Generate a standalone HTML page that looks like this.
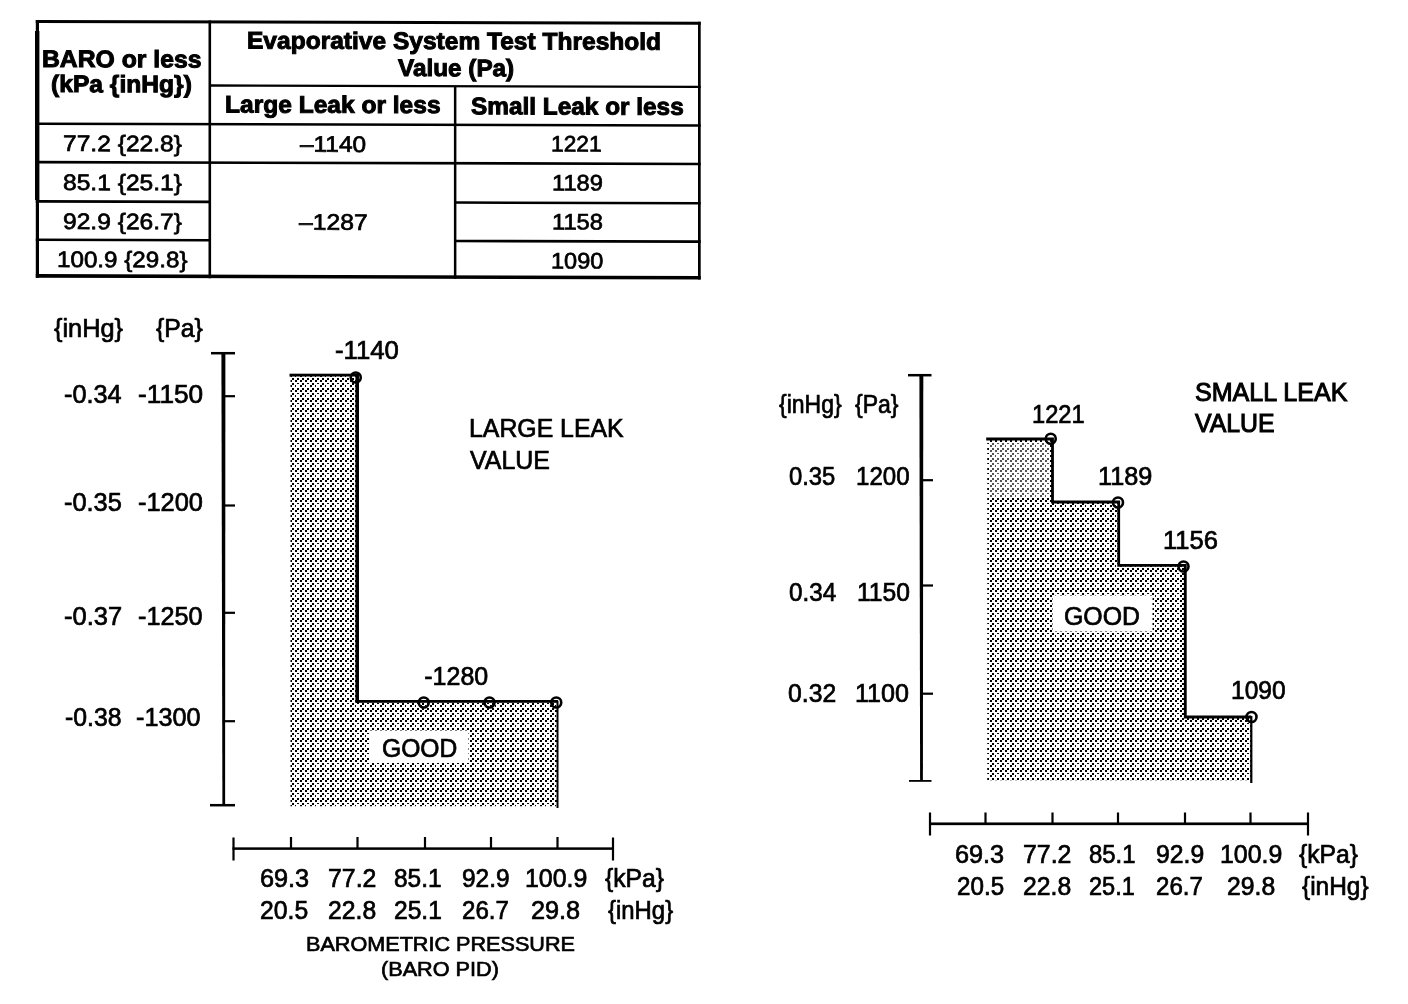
<!DOCTYPE html>
<html lang="en">
<head>
<meta charset="utf-8">
<title>Evaporative System Test Threshold Value</title>
<style>
html,body{margin:0;padding:0;background:#fff;}
body{width:1408px;height:1004px;position:relative;overflow:hidden;font-family:"Liberation Sans",sans-serif;color:#000;}
svg{position:absolute;left:0;top:0;}
.t{position:absolute;white-space:pre;line-height:1;transform-origin:0 0;margin:0;padding:0;}
.b{font-weight:bold;}
#tbl{position:absolute;left:0;top:0;width:1408px;height:300px;}
#labels{position:absolute;left:0;top:0;width:1408px;height:1004px;will-change:transform;}
</style>
</head>
<body>
<svg width="1408" height="1004" viewBox="0 0 1408 1004">
<defs><pattern id="st" width="10" height="10" patternUnits="userSpaceOnUse" shape-rendering="crispEdges"><rect x="0" y="0" width="2" height="2" fill="#000"/><rect x="5" y="0" width="2" height="2" fill="#000"/><rect x="2" y="3" width="2" height="2" fill="#000"/><rect x="7" y="3" width="2" height="1" fill="#000"/><rect x="0" y="5" width="2" height="2" fill="#000"/><rect x="5" y="5" width="1" height="2" fill="#000"/><rect x="2" y="8" width="2" height="2" fill="#000"/><rect x="7" y="8" width="2" height="2" fill="#000"/></pattern></defs>
<g transform="translate(36,0) skewY(0.16) translate(-36,0)">
<rect x="35.8" y="20" width="664.9" height="2.9" fill="#000"/>
<rect x="35.8" y="274.1" width="664.9" height="3.6" fill="#000"/>
<rect x="35.8" y="20" width="3.2" height="257.7" fill="#000"/>
<rect x="35" y="31" width="4.4" height="169" fill="#000"/>
<rect x="698" y="20" width="2.7" height="257.7" fill="#000"/>
<rect x="208.5" y="20" width="2.6" height="257.7" fill="#000"/>
<rect x="453.9" y="85" width="2.5" height="192.7" fill="#000"/>
<rect x="210" y="83.85" width="490.7" height="2.3" fill="#000"/>
<rect x="35.8" y="122.4" width="664.9" height="2.6" fill="#000"/>
<rect x="35.8" y="160.8" width="664.9" height="2.6" fill="#000"/>
<rect x="35.8" y="200.1" width="174.2" height="2.6" fill="#000"/>
<rect x="455" y="200.1" width="245.7" height="2.6" fill="#000"/>
<rect x="35.8" y="238.5" width="174.2" height="2.6" fill="#000"/>
<rect x="455" y="238.5" width="245.7" height="2.6" fill="#000"/>
</g>
<path d="M290.5 375H357.3V701.5H558V806.3H290.5Z" fill="url(#st)"/>
<path d="M221.4 353H225.4L225.1 805H222.4Z" fill="#000"/>
<rect x="211" y="351.95" width="24" height="2.5" fill="#000"/>
<rect x="210" y="803.95" width="25" height="2.5" fill="#000"/>
<rect x="225" y="395.1" width="10" height="2.2" fill="#000"/>
<rect x="225" y="504.4" width="10" height="2.2" fill="#000"/>
<rect x="225" y="611.7" width="10" height="2.2" fill="#000"/>
<rect x="225" y="720.1" width="10" height="2.2" fill="#000"/>
<rect x="289.5" y="373.7" width="68.5" height="2.8" fill="#000"/>
<rect x="355.4" y="373.7" width="3.6" height="329.3" fill="#000"/>
<rect x="356" y="700" width="202" height="2.8" fill="#000"/>
<rect x="556.5" y="701" width="2" height="107" fill="#000"/>
<circle cx="355.75" cy="377.5" r="5" fill="none" stroke="#000" stroke-width="2.6"/>
<circle cx="423.75" cy="702.5" r="5" fill="none" stroke="#000" stroke-width="2.6"/>
<circle cx="489.5" cy="702.5" r="5" fill="none" stroke="#000" stroke-width="2.6"/>
<circle cx="556.25" cy="702.5" r="5" fill="none" stroke="#000" stroke-width="2.6"/>
<rect x="369" y="730.5" width="99.5" height="32.5" fill="#fff"/>
<rect x="232.5" y="847.35" width="381.5" height="2.5" fill="#000"/>
<rect x="232.4" y="837.5" width="2.2" height="23" fill="#000"/>
<rect x="611.9" y="837.5" width="2.2" height="23" fill="#000"/>
<rect x="289.9" y="837" width="2.2" height="11" fill="#000"/>
<rect x="356.4" y="837" width="2.2" height="11" fill="#000"/>
<rect x="423.9" y="837" width="2.2" height="11" fill="#000"/>
<rect x="489.9" y="837" width="2.2" height="11" fill="#000"/>
<rect x="556.4" y="837" width="2.2" height="11" fill="#000"/>
<path d="M987.2 439H1052.5V502H1118.7V565.3H1185.3V717H1251.2V780.3H987.2Z" fill="url(#st)"/>
<rect x="989" y="442" width="61" height="56" fill="#fff" opacity="0.33"/>
<path d="M919.4 375H923.3L922.9 781H920.1Z" fill="#000"/>
<rect x="908" y="373.95" width="23.5" height="2.5" fill="#000"/>
<rect x="909" y="780" width="22.5" height="1.8" fill="#000"/>
<rect x="923" y="479.1" width="10" height="2.2" fill="#000"/>
<rect x="923" y="584.4" width="10" height="2.2" fill="#000"/>
<rect x="923" y="692.6" width="10" height="2.2" fill="#000"/>
<path d="M986.2 439H1052.5V502H1118.7V565.3H1185.3V717H1251.2" fill="none" stroke="#000" stroke-width="2.8"/>
<rect x="1250.2" y="716" width="2.2" height="67" fill="#000"/>
<circle cx="1050.75" cy="438.75" r="5" fill="none" stroke="#000" stroke-width="2.6"/>
<circle cx="1118" cy="502.5" r="5" fill="none" stroke="#000" stroke-width="2.6"/>
<circle cx="1183.5" cy="566.5" r="5" fill="none" stroke="#000" stroke-width="2.6"/>
<circle cx="1251.5" cy="717" r="5" fill="none" stroke="#000" stroke-width="2.6"/>
<rect x="1052.5" y="595.5" width="100" height="36" fill="#fff"/>
<rect x="929" y="822.45" width="380" height="2.7" fill="#000"/>
<rect x="928.9" y="812.5" width="2.2" height="23" fill="#000"/>
<rect x="1306.9" y="812.5" width="2.2" height="23" fill="#000"/>
<rect x="984.4" y="812.5" width="2.2" height="10.5" fill="#000"/>
<rect x="1051.4" y="812.5" width="2.2" height="10.5" fill="#000"/>
<rect x="1116.9" y="812.5" width="2.2" height="10.5" fill="#000"/>
<rect x="1183.9" y="812.5" width="2.2" height="10.5" fill="#000"/>
<rect x="1249.4" y="812.5" width="2.2" height="10.5" fill="#000"/>
</svg>
<div id="labels">
<div id="tbl" style="transform-origin:36px 0;transform:skewY(0.16deg)">
<span class="t b" style="left:41.97px;top:47px;font-size:24px;-webkit-text-stroke:1px #000;transform:scaleX(1.0310)">BARO or less</span>
<span class="t b" style="left:51.23px;top:72px;font-size:24px;-webkit-text-stroke:1px #000;transform:scaleX(1.0257)">(kPa {inHg})</span>
<span class="t b" style="left:246.98px;top:28px;font-size:24px;-webkit-text-stroke:1px #000;transform:scaleX(1.0223)">Evaporative System Test Threshold</span>
<span class="t b" style="left:397.51px;top:55px;font-size:24px;-webkit-text-stroke:1px #000;transform:scaleX(1.0131)">Value (Pa)</span>
<span class="t b" style="left:224.98px;top:92px;font-size:24px;-webkit-text-stroke:1px #000;transform:scaleX(1.0227)">Large Leak or less</span>
<span class="t b" style="left:470.75px;top:93px;font-size:24px;-webkit-text-stroke:1px #000;transform:scaleX(1.0156)">Small Leak or less</span>
<span class="t" style="left:62.68px;top:133px;font-size:22.5px;-webkit-text-stroke:0.7px #000;transform:scaleX(1.0926)">77.2 {22.8}</span>
<span class="t" style="left:62.68px;top:172px;font-size:22.5px;-webkit-text-stroke:0.7px #000;transform:scaleX(1.0926)">85.1 {25.1}</span>
<span class="t" style="left:62.68px;top:211px;font-size:22.5px;-webkit-text-stroke:0.7px #000;transform:scaleX(1.0926)">92.9 {26.7}</span>
<span class="t" style="left:56.66px;top:249px;font-size:22.5px;-webkit-text-stroke:0.7px #000;transform:scaleX(1.0750)">100.9 {29.8}</span>
<span class="t" style="left:299.57px;top:133px;font-size:22.5px;-webkit-text-stroke:0.7px #000;transform:scaleX(1.0860)">–1140</span>
<span class="t" style="left:298.77px;top:211px;font-size:22.5px;-webkit-text-stroke:0.7px #000;transform:scaleX(1.0968)">–1287</span>
<span class="t" style="left:550.74px;top:132px;font-size:22.5px;-webkit-text-stroke:0.7px #000;transform:scaleX(1.0104)">1221</span>
<span class="t" style="left:552.18px;top:171px;font-size:22.5px;-webkit-text-stroke:0.7px #000;transform:scaleX(1.0538)">1189</span>
<span class="t" style="left:552.18px;top:210px;font-size:22.5px;-webkit-text-stroke:0.7px #000;transform:scaleX(1.0538)">1158</span>
<span class="t" style="left:550.69px;top:249px;font-size:22.5px;-webkit-text-stroke:0.7px #000;transform:scaleX(1.0466)">1090</span>
</div>
<span class="t" style="left:54.20px;top:316px;font-size:25px;-webkit-text-stroke:0.7px #000;transform:scaleX(1.0118)">{inHg}</span>
<span class="t" style="left:156.30px;top:316px;font-size:25px;-webkit-text-stroke:0.7px #000;transform:scaleX(0.9905)">{Pa}</span>
<span class="t" style="left:64.14px;top:382px;font-size:25px;-webkit-text-stroke:0.7px #000;transform:scaleX(1.0099)">-0.34</span>
<span class="t" style="left:138.11px;top:382px;font-size:25px;-webkit-text-stroke:0.7px #000;transform:scaleX(1.0502)">-1150</span>
<span class="t" style="left:64.14px;top:490px;font-size:25px;-webkit-text-stroke:0.7px #000;transform:scaleX(1.0144)">-0.35</span>
<span class="t" style="left:138.24px;top:490px;font-size:25px;-webkit-text-stroke:0.7px #000;transform:scaleX(1.0160)">-1200</span>
<span class="t" style="left:64.14px;top:604px;font-size:25px;-webkit-text-stroke:0.7px #000;transform:scaleX(1.0190)">-0.37</span>
<span class="t" style="left:138.24px;top:604px;font-size:25px;-webkit-text-stroke:0.7px #000;transform:scaleX(1.0080)">-1250</span>
<span class="t" style="left:65.46px;top:705px;font-size:25px;-webkit-text-stroke:0.7px #000;transform:scaleX(0.9910)">-0.38</span>
<span class="t" style="left:136.24px;top:705px;font-size:25px;-webkit-text-stroke:0.7px #000;transform:scaleX(1.0080)">-1300</span>
<span class="t" style="left:335.23px;top:338px;font-size:25px;-webkit-text-stroke:0.7px #000;transform:scaleX(1.0288)">-1140</span>
<span class="t" style="left:468.76px;top:416px;font-size:25px;-webkit-text-stroke:0.7px #000;transform:scaleX(0.9935)">LARGE LEAK</span>
<span class="t" style="left:469.75px;top:448px;font-size:25px;-webkit-text-stroke:0.7px #000;transform:scaleX(0.9969)">VALUE</span>
<span class="t" style="left:424.25px;top:664px;font-size:25px;-webkit-text-stroke:0.7px #000;transform:scaleX(1.0000)">-1280</span>
<span class="t" style="left:381.51px;top:736px;font-size:25px;-webkit-text-stroke:0.7px #000;transform:scaleX(0.9866)">GOOD</span>
<span class="t" style="left:259.99px;top:866px;font-size:25px;-webkit-text-stroke:0.7px #000;transform:scaleX(1.0106)">69.3</span>
<span class="t" style="left:327.51px;top:866px;font-size:25px;-webkit-text-stroke:0.7px #000;transform:scaleX(0.9947)">77.2</span>
<span class="t" style="left:394.27px;top:866px;font-size:25px;-webkit-text-stroke:0.7px #000;transform:scaleX(0.9787)">85.1</span>
<span class="t" style="left:461.77px;top:866px;font-size:25px;-webkit-text-stroke:0.7px #000;transform:scaleX(0.9787)">92.9</span>
<span class="t" style="left:524.51px;top:866px;font-size:25px;-webkit-text-stroke:0.7px #000;transform:scaleX(0.9959)">100.9</span>
<span class="t" style="left:605.00px;top:866px;font-size:25px;-webkit-text-stroke:0.7px #000;transform:scaleX(0.9874)">{kPa}</span>
<span class="t" style="left:260.01px;top:898px;font-size:25px;-webkit-text-stroke:0.7px #000;transform:scaleX(0.9894)">20.5</span>
<span class="t" style="left:327.51px;top:898px;font-size:25px;-webkit-text-stroke:0.7px #000;transform:scaleX(0.9894)">22.8</span>
<span class="t" style="left:394.02px;top:898px;font-size:25px;-webkit-text-stroke:0.7px #000;transform:scaleX(0.9840)">25.1</span>
<span class="t" style="left:461.54px;top:898px;font-size:25px;-webkit-text-stroke:0.7px #000;transform:scaleX(0.9626)">26.7</span>
<span class="t" style="left:531.49px;top:898px;font-size:25px;-webkit-text-stroke:0.7px #000;transform:scaleX(1.0106)">29.8</span>
<span class="t" style="left:607.50px;top:898px;font-size:25px;-webkit-text-stroke:0.7px #000;transform:scaleX(0.9559)">{inHg}</span>
<span class="t" style="left:305.71px;top:933px;font-size:21px;-webkit-text-stroke:0.7px #000;transform:scaleX(1.0289)">BAROMETRIC PRESSURE</span>
<span class="t" style="left:381.47px;top:958px;font-size:21px;-webkit-text-stroke:0.7px #000;transform:scaleX(1.0311)">(BARO PID)</span>
<span class="t" style="left:779.00px;top:392px;font-size:25px;-webkit-text-stroke:0.7px #000;transform:scaleX(0.9191)">{inHg}</span>
<span class="t" style="left:855.00px;top:392px;font-size:25px;-webkit-text-stroke:0.7px #000;transform:scaleX(0.9206)">{Pa}</span>
<span class="t" style="left:789.29px;top:464px;font-size:25px;-webkit-text-stroke:0.7px #000;transform:scaleX(0.9524)">0.35</span>
<span class="t" style="left:856.06px;top:464px;font-size:25px;-webkit-text-stroke:0.7px #000;transform:scaleX(0.9626)">1200</span>
<span class="t" style="left:789.27px;top:580px;font-size:25px;-webkit-text-stroke:0.7px #000;transform:scaleX(0.9684)">0.34</span>
<span class="t" style="left:856.52px;top:580px;font-size:25px;-webkit-text-stroke:0.7px #000;transform:scaleX(0.9855)">1150</span>
<span class="t" style="left:787.76px;top:681px;font-size:25px;-webkit-text-stroke:0.7px #000;transform:scaleX(0.9894)">0.32</span>
<span class="t" style="left:854.99px;top:681px;font-size:25px;-webkit-text-stroke:0.7px #000;transform:scaleX(1.0048)">1100</span>
<span class="t" style="left:1032.08px;top:402px;font-size:25px;-webkit-text-stroke:0.7px #000;transform:scaleX(0.9484)">1221</span>
<span class="t" style="left:1098.49px;top:464px;font-size:25px;-webkit-text-stroke:0.7px #000;transform:scaleX(1.0097)">1189</span>
<span class="t" style="left:1163.17px;top:528px;font-size:25px;-webkit-text-stroke:0.7px #000;transform:scaleX(1.0194)">1156</span>
<span class="t" style="left:1231.03px;top:678px;font-size:25px;-webkit-text-stroke:0.7px #000;transform:scaleX(0.9813)">1090</span>
<span class="t" style="left:1194.50px;top:380px;font-size:25px;-webkit-text-stroke:1px #000;transform:scaleX(1.0033)">SMALL LEAK</span>
<span class="t" style="left:1195.00px;top:411px;font-size:25px;-webkit-text-stroke:1px #000;transform:scaleX(0.9938)">VALUE</span>
<span class="t" style="left:1064.01px;top:604px;font-size:25px;-webkit-text-stroke:0.7px #000;transform:scaleX(0.9933)">GOOD</span>
<span class="t" style="left:955.49px;top:842px;font-size:25px;-webkit-text-stroke:0.7px #000;transform:scaleX(1.0106)">69.3</span>
<span class="t" style="left:1023.01px;top:842px;font-size:25px;-webkit-text-stroke:0.7px #000;transform:scaleX(0.9947)">77.2</span>
<span class="t" style="left:1089.28px;top:842px;font-size:25px;-webkit-text-stroke:0.7px #000;transform:scaleX(0.9574)">85.1</span>
<span class="t" style="left:1155.76px;top:842px;font-size:25px;-webkit-text-stroke:0.7px #000;transform:scaleX(0.9894)">92.9</span>
<span class="t" style="left:1220.01px;top:842px;font-size:25px;-webkit-text-stroke:0.7px #000;transform:scaleX(0.9959)">100.9</span>
<span class="t" style="left:1299.00px;top:842px;font-size:25px;-webkit-text-stroke:0.7px #000;transform:scaleX(0.9874)">{kPa}</span>
<span class="t" style="left:956.53px;top:874px;font-size:25px;-webkit-text-stroke:0.7px #000;transform:scaleX(0.9681)">20.5</span>
<span class="t" style="left:1023.01px;top:874px;font-size:25px;-webkit-text-stroke:0.7px #000;transform:scaleX(0.9894)">22.8</span>
<span class="t" style="left:1089.06px;top:874px;font-size:25px;-webkit-text-stroke:0.7px #000;transform:scaleX(0.9412)">25.1</span>
<span class="t" style="left:1155.54px;top:874px;font-size:25px;-webkit-text-stroke:0.7px #000;transform:scaleX(0.9626)">26.7</span>
<span class="t" style="left:1226.51px;top:874px;font-size:25px;-webkit-text-stroke:0.7px #000;transform:scaleX(0.9894)">29.8</span>
<span class="t" style="left:1301.50px;top:874px;font-size:25px;-webkit-text-stroke:0.7px #000;transform:scaleX(0.9779)">{inHg}</span>
</div>
</body>
</html>
